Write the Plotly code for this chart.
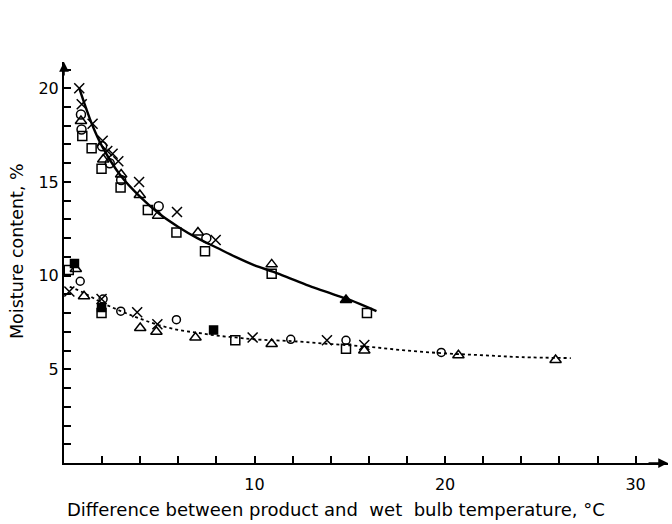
import plotly.graph_objects as go

# ---- upper group (solid fitted curve) ----
up_cross_x = [0.80, 0.93, 1.50, 2.03, 2.27, 2.55, 2.85, 3.94, 5.93, 7.96]
up_cross_y = [20.0, 19.15, 18.1, 17.2, 16.65, 16.5, 16.1, 15.0, 13.4, 11.9]
up_circle_x = [0.89, 0.92, 2.00, 2.40, 3.00, 4.97, 7.47]
up_circle_y = [18.6, 17.8, 16.9, 16.0, 15.1, 13.7, 12.0]
up_tri_x = [0.89, 2.06, 3.00, 3.98, 4.94, 7.03, 10.9]
up_tri_y = [18.25, 16.2, 15.4, 14.3, 13.2, 12.3, 10.6]
up_square_x = [0.96, 1.45, 1.97, 2.97, 4.40, 5.90, 7.40, 10.9, 15.9]
up_square_y = [17.45, 16.8, 15.7, 14.7, 13.5, 12.3, 11.3, 10.1, 8.0]
up_ftri_x = [14.8]
up_ftri_y = [8.7]
up_curve_x = [0.8, 1.0, 1.5, 2.0, 3.0, 4.0, 5.0, 6.0, 7.0, 8.0, 9.0, 10.0, 11.0, 12.0, 13.0, 14.0, 15.0, 16.4]
up_curve_y = [20.0, 19.4, 18.0, 16.9, 15.3, 14.2, 13.3, 12.6, 12.0, 11.5, 11.0, 10.55, 10.2, 9.8, 9.4, 9.05, 8.7, 8.1]

# ---- lower group (dotted fitted curve) ----
lo_cross_x = [0.28, 1.97, 3.84, 4.90, 9.90, 13.8, 15.76]
lo_cross_y = [9.15, 8.75, 8.05, 7.4, 6.7, 6.55, 6.3]
lo_circle_x = [0.85, 2.05, 2.98, 5.90, 11.9, 14.8, 19.8]
lo_circle_y = [9.7, 8.75, 8.1, 7.65, 6.6, 6.55, 5.9]
lo_tri_x = [0.62, 1.05, 4.00, 4.85, 6.90, 10.9, 15.76, 20.7, 25.8]
lo_tri_y = [10.35, 8.9, 7.2, 7.0, 6.7, 6.35, 6.0, 5.75, 5.5]
lo_square_x = [0.25, 1.97, 8.99, 14.8]
lo_square_y = [10.3, 8.0, 6.55, 6.1]
lo_fsquare_x = [0.55, 1.97, 7.85]
lo_fsquare_y = [10.65, 8.3, 7.1]
lo_curve_x = [0.3, 1.0, 2.0, 3.0, 4.0, 5.0, 6.0, 7.0, 8.0, 9.0, 10.0, 12.0, 14.0, 16.0, 18.0, 20.0, 22.0, 24.0, 26.6]
lo_curve_y = [9.4, 9.1, 8.55, 8.1, 7.7, 7.35, 7.1, 6.95, 6.8, 6.7, 6.6, 6.5, 6.35, 6.2, 6.0, 5.85, 5.75, 5.65, 5.6]

x_tick_vals = list(range(2, 32, 2))
x_tick_text = ["" if v not in (10, 20, 30) else str(v) for v in x_tick_vals]
y_tick_vals = list(range(1, 22))
y_tick_text = [str(v) if v in (5, 10, 15, 20) else "" for v in y_tick_vals]

FONT = "DejaVu Sans"
fig = go.Figure()

fig.add_trace(go.Scatter(x=up_curve_x, y=up_curve_y, mode="lines",
                         line=dict(color="black", width=2.4, shape="spline")))
fig.add_trace(go.Scatter(x=lo_curve_x, y=lo_curve_y, mode="lines",
                         line=dict(color="black", width=1.8, dash="dot", shape="spline")))

def pts(x, y, sym, size=9):
    fig.add_trace(go.Scatter(x=x, y=y, mode="markers",
                             marker=dict(symbol=sym, size=size, color="black",
                                         line=dict(color="black", width=1.5))))

pts(up_cross_x, up_cross_y, "x-thin-open", 10)
pts(up_circle_x, up_circle_y, "circle-open", 9)
pts(up_tri_x, up_tri_y, "triangle-up-open", 10)
pts(up_square_x, up_square_y, "square-open", 9)
pts(up_ftri_x, up_ftri_y, "triangle-up", 10)
pts(lo_cross_x, lo_cross_y, "x-thin-open", 10)
pts(lo_circle_x, lo_circle_y, "circle-open", 8)
pts(lo_tri_x, lo_tri_y, "triangle-up-open", 10)
pts(lo_square_x, lo_square_y, "square-open", 9)
pts(lo_fsquare_x, lo_fsquare_y, "square", 8)

fig.update_layout(
    width=672, height=524,
    margin=dict(l=64, r=4, t=62, b=61),
    paper_bgcolor="white", plot_bgcolor="white",
    showlegend=False,
    font=dict(family=FONT, size=16, color="black"),
    xaxis=dict(range=[0, 31.7], showgrid=False, zeroline=False,
               showline=True, linecolor="black", linewidth=2,
               tickmode="array", tickvals=x_tick_vals, ticktext=x_tick_text,
               ticks="inside", ticklen=7, tickwidth=1.5, tickcolor="black",
               ticklabelstandoff=6),
    yaxis=dict(range=[0, 21.4], showgrid=False, zeroline=False,
               showline=True, linecolor="black", linewidth=2,
               tickmode="array", tickvals=y_tick_vals, ticktext=y_tick_text,
               ticks="inside", ticklen=7, tickwidth=1.5, tickcolor="black",
               ticklabelstandoff=0),
    annotations=[
        dict(x=31.7, y=0, ax=30.6, ay=0, xref="x", yref="y", axref="x", ayref="y",
             showarrow=True, arrowhead=2, arrowsize=1.3, arrowwidth=1.5,
             arrowcolor="black", text=""),
        dict(x=0, y=21.4, ax=0, ay=20.6, xref="x", yref="y", axref="x", ayref="y",
             showarrow=True, arrowhead=2, arrowsize=1.3, arrowwidth=1.5,
             arrowcolor="black", text=""),
        dict(text="Difference between product and  wet  bulb temperature, °C",
             xref="paper", yref="paper", x=(336 - 64) / 604, y=-(510 - 463) / 401,
             xanchor="center", yanchor="middle", showarrow=False,
             font=dict(family=FONT, size=18)),
        dict(text="Moisture content, %", textangle=-90,
             xref="paper", yref="paper", x=(17 - 64) / 604, y=(463 - 251) / 401,
             xanchor="center", yanchor="middle", showarrow=False,
             font=dict(family=FONT, size=17.5)),
    ],
)

fig.write_html("out.html")
